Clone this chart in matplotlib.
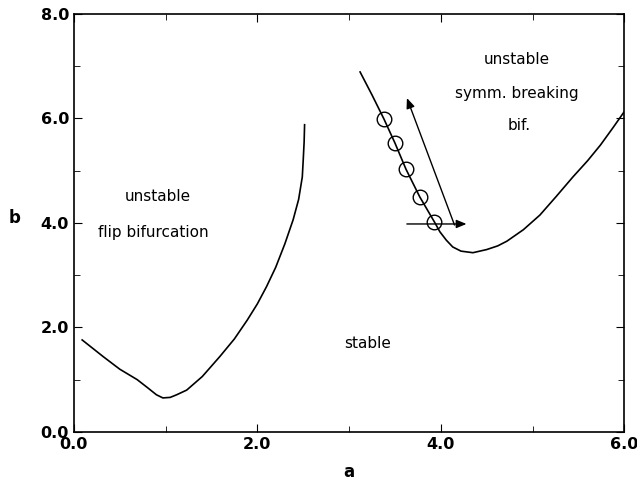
import numpy as np
import matplotlib
matplotlib.use("Agg")
import matplotlib.pyplot as plt
from matplotlib.ticker import MultipleLocator, FormatStrFormatter

# flip bifurcation boundary (left curve)
flip_a = [0.09, 0.32, 0.50, 0.69, 0.80, 0.90, 0.97, 1.05, 1.12, 1.23, 1.40, 1.59,
          1.75, 1.89, 2.00, 2.10, 2.20, 2.30, 2.39, 2.45, 2.49, 2.50, 2.51, 2.515]
flip_b = [1.76, 1.44, 1.20, 1.00, 0.85, 0.71, 0.65, 0.66, 0.71, 0.80, 1.06, 1.44,
          1.78, 2.14, 2.45, 2.78, 3.15, 3.60, 4.06, 4.45, 4.88, 5.20, 5.55, 5.88]

# symmetry breaking boundary (right curve)
symm_a = [3.12, 3.25, 3.38, 3.50, 3.62, 3.77, 3.93, 3.99, 4.06, 4.13, 4.22, 4.35,
          4.50, 4.62, 4.72, 4.90, 5.08, 5.26, 5.44, 5.60, 5.74, 5.88, 6.00]
symm_b = [6.89, 6.45, 5.99, 5.53, 5.03, 4.50, 4.02, 3.83, 3.67, 3.54, 3.46, 3.43,
          3.49, 3.56, 3.65, 3.87, 4.15, 4.51, 4.88, 5.19, 5.49, 5.83, 6.13]

# marked points on the right curve
pts_a = [3.38, 3.50, 3.62, 3.77, 3.93]
pts_b = [5.99, 5.53, 5.03, 4.50, 4.02]

fig = plt.figure(figsize=(6.37, 4.82), dpi=100)
ax = fig.add_axes([0.116, 0.104, 0.864, 0.867])

ax.plot(flip_a, flip_b, color="black", lw=1.2)
ax.plot(symm_a, symm_b, color="black", lw=1.2)
ax.plot(pts_a, pts_b, "o", ms=10.5, mfc="none", mec="black", mew=1.0)

# arrows
arrow = dict(arrowstyle="-|>,head_width=0.25,head_length=0.6", color="black",
             lw=1.0, mutation_scale=10)
ax.annotate("", xy=(3.62, 6.44), xytext=(4.16, 3.91), arrowprops=arrow)
ax.annotate("", xy=(4.31, 3.98), xytext=(3.60, 3.98), arrowprops=arrow)

# region labels
fs = 11
ax.text(0.92, 4.50, "unstable", ha="center", va="center", fontsize=fs)
ax.text(0.87, 3.81, "flip bifurcation", ha="center", va="center", fontsize=fs)
ax.text(4.83, 7.12, "unstable", ha="center", va="center", fontsize=fs)
ax.text(4.83, 6.47, "symm. breaking", ha="center", va="center", fontsize=fs)
ax.text(4.85, 5.86, "bif.", ha="center", va="center", fontsize=fs)
ax.text(3.20, 1.70, "stable", ha="center", va="center", fontsize=fs)

ax.set_xlim(0, 6)
ax.set_ylim(0, 8)
ax.xaxis.set_major_locator(MultipleLocator(2))
ax.xaxis.set_minor_locator(MultipleLocator(1))
ax.yaxis.set_major_locator(MultipleLocator(2))
ax.yaxis.set_minor_locator(MultipleLocator(1))
ax.xaxis.set_major_formatter(FormatStrFormatter("%.1f"))
ax.yaxis.set_major_formatter(FormatStrFormatter("%.1f"))
ax.tick_params(which="both", direction="in", top=True, right=True)
ax.tick_params(which="major", length=6, labelsize=11.5)
ax.tick_params(which="minor", length=4)
for lab in ax.get_xticklabels() + ax.get_yticklabels():
    lab.set_fontweight("bold")
for s in ax.spines.values():
    s.set_linewidth(1.2)

fig.text(349 / 637, 1 - 472 / 482, "a", ha="center", va="center", fontsize=12, fontweight="bold")
fig.text(15 / 637, 1 - 218 / 482, "b", ha="center", va="center", fontsize=12, fontweight="bold")

fig.savefig("out.png", dpi=100)
